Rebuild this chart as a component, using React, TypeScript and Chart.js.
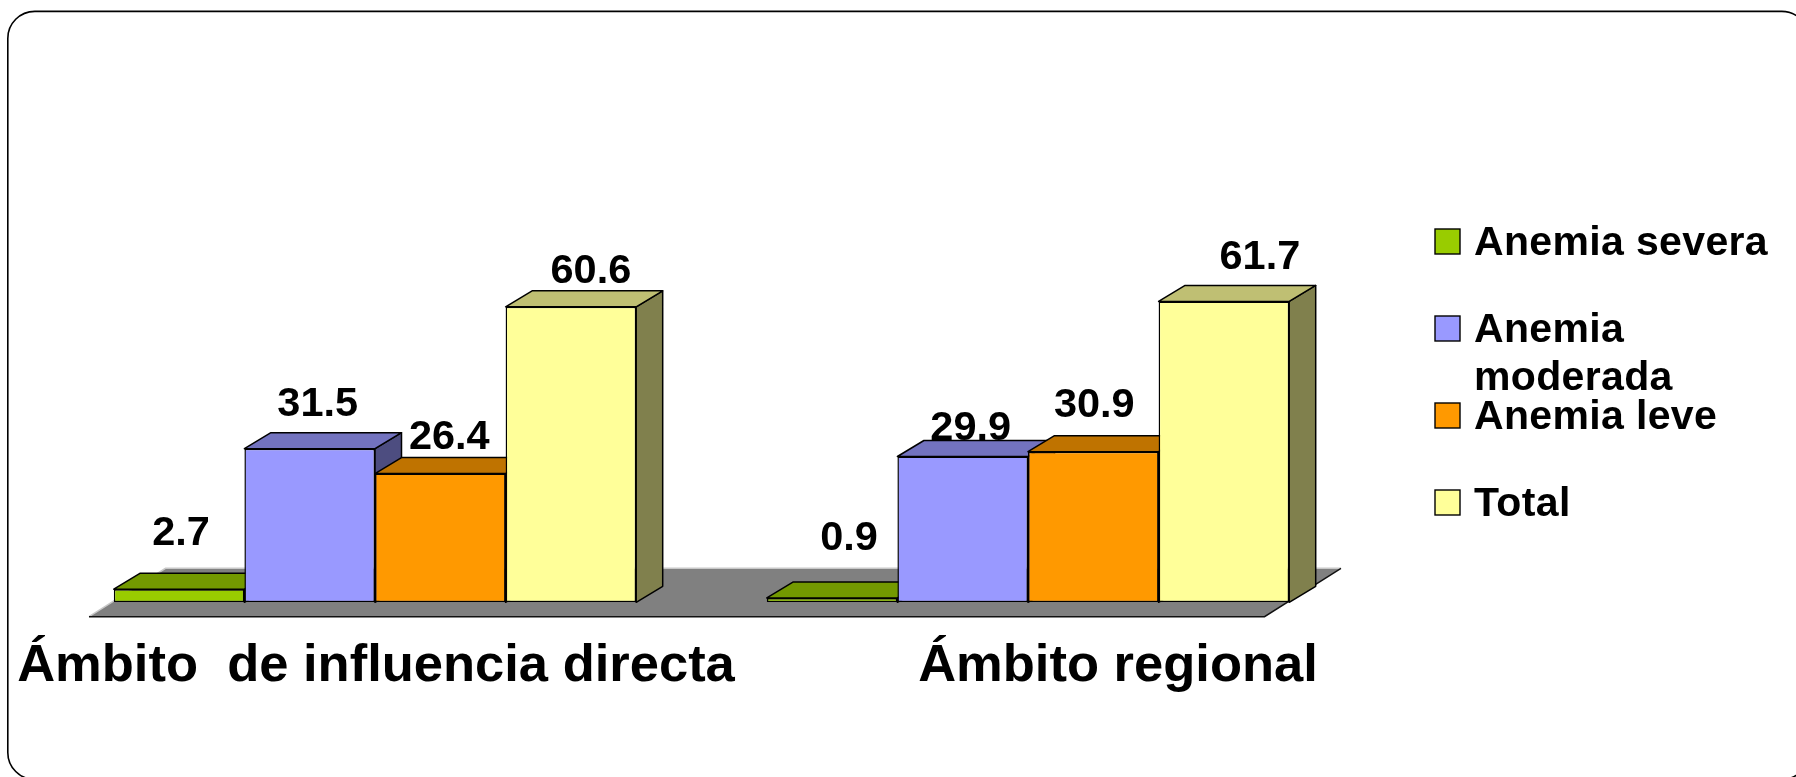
import React, { useEffect, useRef } from "react";
import { Chart, registerables } from "chart.js";

Chart.register(...registerables);

const categories = ["Ámbito  de influencia directa", "Ámbito regional"];
const seriesNames = ["Anemia severa", "Anemia moderada", "Anemia leve", "Total"];
const anemiaSevera = [2.7, 0.9];
const anemiaModerada = [31.5, 29.9];
const anemiaLeve = [26.4, 30.9];
const total = [60.6, 61.7];

const FONT = '"Liberation Sans", Arial, sans-serif';
const faceColors = ["#99CC00", "#9999FF", "#FF9900", "#FFFF99"];
const topColors = ["#739900", "#7373BF", "#BF7300", "#BFBF73"];
const sideColors = ["#4D6600", "#4D4D80", "#805000", "#80804D"];

// manual label placement relative to each bar's top centre: [series][category] = [dx, dy]
const labelNudges = [
  [[2, -44], [17, -48]],
  [[8, -33], [8, -17]],
  [[9, -25], [1, -35]],
  [[20, -24], [36, -32]],
];

const DEPTH_X = 26.5;
const DEPTH_Y = 16;

const threeD = {
  id: "threeD",
  afterUpdate(chart: any) {
    // second category label sits off-centre in the reference
    const items = chart.scales.x.getLabelItems();
    if (items[0]) items[0].options.translation[0] += 1;
    if (items[1]) items[1].options.translation[0] += 90;
  },
  beforeDraw(chart: any) {
    const { ctx, width, height } = chart;
    ctx.save();
    ctx.fillStyle = "#fff";
    ctx.fillRect(0, 0, width, height);
    ctx.strokeStyle = "#000";
    ctx.lineWidth = 1.6;
    ctx.beginPath();
    ctx.roundRect(7.8, 11.4, 1801, 768, 27);
    ctx.stroke();
    ctx.restore();
  },
  beforeDatasetsDraw(chart: any) {
    const { ctx, scales } = chart;
    const base = scales.y.getPixelForValue(0);
    const l = scales.x.left;
    const r = scales.x.right;
    // floor
    const fy = base + 14.4;
    const by = base - 34;
    const fl = l + 40.5;
    const fr = r - 90;
    const bl = fl + 76.5;
    const br = fr + 76.5;
    ctx.save();
    ctx.fillStyle = "#808080";
    ctx.beginPath();
    ctx.moveTo(fl, fy);
    ctx.lineTo(fr, fy);
    ctx.lineTo(br, by);
    ctx.lineTo(bl, by);
    ctx.closePath();
    ctx.fill();
    ctx.lineWidth = 1.4;
    ctx.strokeStyle = "#c8c8c8";
    ctx.beginPath();
    ctx.moveTo(fl, fy);
    ctx.lineTo(bl, by);
    ctx.lineTo(br, by);
    ctx.stroke();
    ctx.strokeStyle = "#111";
    ctx.beginPath();
    ctx.moveTo(fl, fy);
    ctx.lineTo(fr, fy);
    ctx.lineTo(br, by);
    ctx.stroke();

    // top and side faces, left to right; the library's bars are the front faces
    ctx.lineWidth = 1.5;
    ctx.strokeStyle = "#000";
    ctx.lineJoin = "round";
    chart.data.labels.forEach((_: string, i: number) => {
      chart.data.datasets.forEach((_d: any, s: number) => {
        const bar = chart.getDatasetMeta(s).data[i];
        const x0 = bar.x - bar.width / 2;
        const x1 = bar.x + bar.width / 2;
        const y = bar.y;
        const b = bar.base;
        ctx.fillStyle = sideColors[s];
        ctx.beginPath();
        ctx.moveTo(x1, y);
        ctx.lineTo(x1 + DEPTH_X, y - DEPTH_Y);
        ctx.lineTo(x1 + DEPTH_X, b - DEPTH_Y);
        ctx.lineTo(x1, b);
        ctx.closePath();
        ctx.fill();
        ctx.stroke();
        ctx.fillStyle = topColors[s];
        ctx.beginPath();
        ctx.moveTo(x0, y);
        ctx.lineTo(x0 + DEPTH_X, y - DEPTH_Y);
        ctx.lineTo(x1 + DEPTH_X, y - DEPTH_Y);
        ctx.lineTo(x1, y);
        ctx.closePath();
        ctx.fill();
        ctx.stroke();
      });
    });
    ctx.restore();
  },
  afterDatasetsDraw(chart: any) {
    const { ctx } = chart;
    ctx.save();
    ctx.fillStyle = "#000";
    // value labels
    ctx.font = `bold 41.5px ${FONT}`;
    ctx.textAlign = "center";
    ctx.textBaseline = "alphabetic";
    chart.data.datasets.forEach((d: any, s: number) => {
      chart.getDatasetMeta(s).data.forEach((bar: any, i: number) => {
        const [dx, dy] = labelNudges[s][i];
        ctx.fillText(d.data[i].toFixed(1), bar.x + dx, bar.y + dy);
      });
    });
    // legend
    const boxX = 1435;
    const boxTop = 229;
    const step = 87;
    const box = 25;
    chart.data.datasets.forEach((d: any, s: number) => {
      const y = boxTop + s * step;
      ctx.fillStyle = d.backgroundColor;
      ctx.fillRect(boxX, y, box, box);
      ctx.strokeStyle = "#000";
      ctx.lineWidth = 1.4;
      ctx.strokeRect(boxX, y, box, box);
      ctx.fillStyle = "#000";
      ctx.font = `bold 41px ${FONT}`;
      ctx.textAlign = "left";
      ctx.letterSpacing = "0.35px";
      const lines: string[] = [];
      let cur = "";
      String(d.label)
        .split(" ")
        .forEach((w) => {
          const t = cur ? cur + " " + w : w;
          if (cur && ctx.measureText(t).width > 310) {
            lines.push(cur);
            cur = w;
          } else cur = t;
        });
      lines.push(cur);
      lines.forEach((ln, k) => ctx.fillText(ln, 1474, y + 25.5 + k * 48));
      ctx.letterSpacing = "0px";
    });
    ctx.restore();
  },
};

export default function App() {
  const ref = useRef<HTMLCanvasElement>(null);
  useEffect(() => {
    const series = [anemiaSevera, anemiaModerada, anemiaLeve, total];
    const chart = new Chart(ref.current as HTMLCanvasElement, {
      type: "bar",
      data: {
        labels: categories,
        datasets: series.map((data, s) => ({
          label: seriesNames[s],
          data,
          backgroundColor: faceColors[s],
          borderColor: "#000",
          borderWidth: 1.5,
          borderSkipped: false,
          barPercentage: 1,
          categoryPercentage: 0.8,
        })),
      },
      options: {
        responsive: false,
        animation: false,
        layout: { padding: { left: 48.5, right: 441.5, top: 261, bottom: 54.7 } },
        plugins: { legend: { display: false }, tooltip: { enabled: false }, title: { display: false } },
        scales: {
          x: {
            afterFit: (scale: any) => {
              scale.height = 120;
              scale.paddingLeft = 0;
              scale.paddingRight = 0;
            },
            grid: { display: false, drawTicks: false },
            border: { display: false },
            ticks: {
              color: "#000",
              font: { family: FONT, weight: "bold", size: 52.5 },
              padding: 33,
              maxRotation: 0,
              minRotation: 0,
              autoSkip: false,
            },
          },
          y: { display: false, min: 0, max: 70 },
        },
      },
      plugins: [threeD],
    } as any);
    return () => chart.destroy();
  }, []);
  return (
    <div style={{ position: "absolute", left: 0, top: 0, width: 1796, height: 777, overflow: "hidden" }}>
      <canvas ref={ref} width={1796} height={777} style={{ display: "block" }} />
    </div>
  );
}
